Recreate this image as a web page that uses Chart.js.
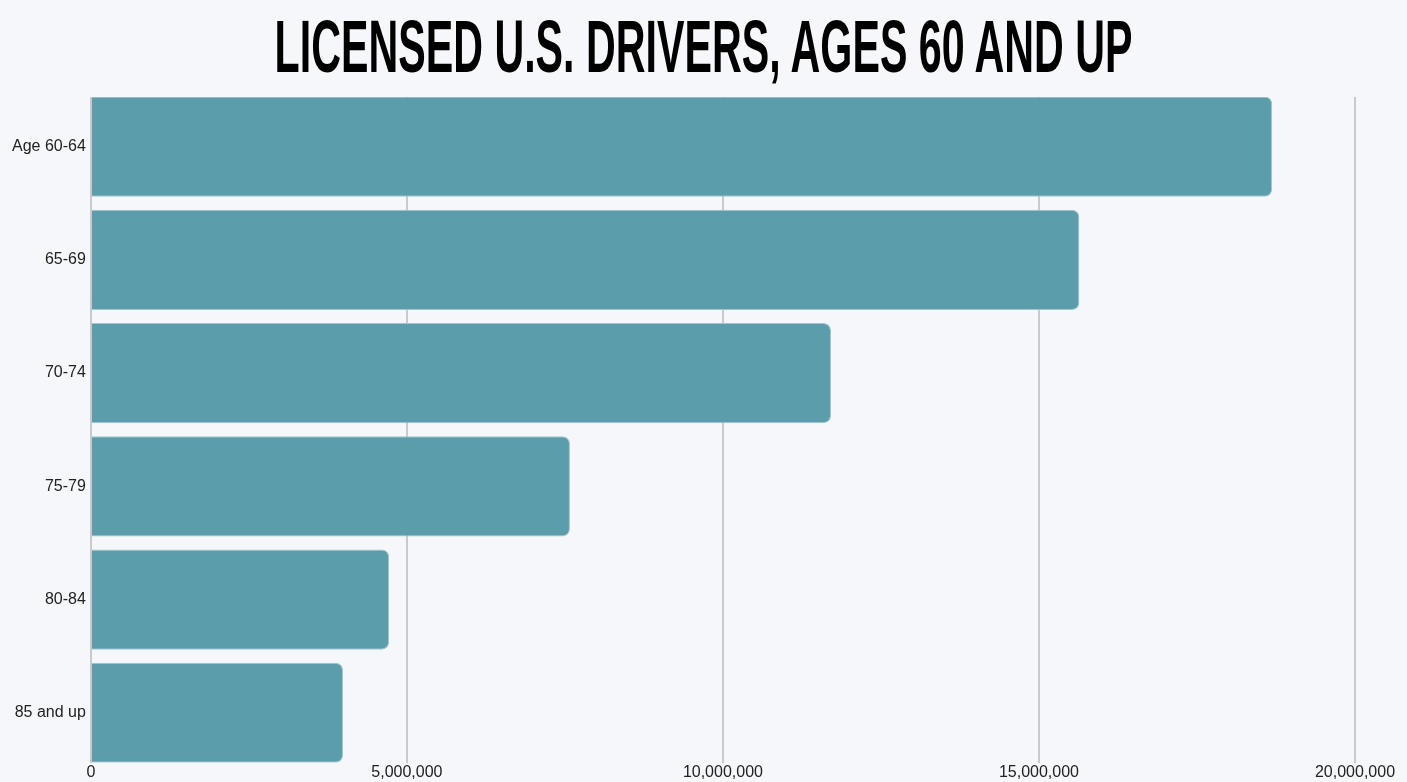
<!DOCTYPE html>
<html>
<head>
<meta charset="utf-8">
<script src="https://cdn.jsdelivr.net/npm/chart.js@4"></script>
<style>
html, body { margin: 0; padding: 0; background: #f5f7fb; }
body { width: 1407px; height: 782px; overflow: hidden; position: relative; }
#title { position: absolute; top: 9px; left: 0; width: 1407px; text-align: center; z-index: 2; }
#title span {
  display: inline-block;
  font-family: "Liberation Sans", Arial, sans-serif;
  font-weight: bold;
  font-size: 60px;
  line-height: 60px;
  color: #000;
  white-space: nowrap;
  transform-origin: 50% 0;
}
#wrap { position: absolute; top: 0; left: 0; width: 1407px; height: 782px; }
canvas { display: block; }
</style>
</head>
<body>
<div id="title"><span id="titleText">LICENSED U.S. DRIVERS, AGES 60 AND UP</span></div>
<div id="wrap"><canvas id="chart" width="1407" height="782"></canvas></div>
<script>

/* data */

const ageGroups = ["Age 60-64", "65-69", "70-74", "75-79", "80-84", "85 and up"];
const drivers = [18690000, 15640000, 11710000, 7580000, 4720000, 3990000];
const xTicks = [0, 5000000, 10000000, 15000000, 20000000];

/* title: squeeze to the same width as the original */

const t = document.getElementById("titleText");
const w = t.getBoundingClientRect().width;
t.style.transform = "scale(" + (858 / w) + ", 1.25)";

/* chart */

// rows go on a numeric axis so the bars can sit flush with the plot edges
const points = drivers.map((v, i) => ({ x: v, y: i }));

new Chart(document.getElementById("chart"), {
type: "bar",
data: {
datasets: [{
label: "Licensed drivers",
data: points,
backgroundColor: "#5c9dab",
borderColor: "#a3c6ce",
borderWidth: 1,
borderRadius: 7,
borderSkipped: "start",
barPercentage: 0.885,
categoryPercentage: 1
}]
},
options: {
indexAxis: "y",
responsive: false,
animation: false,
devicePixelRatio: 1,
layout: { padding: { top: 97, right: 52, left: 7, bottom: 0 } },
plugins: {
legend: { display: false },
tooltip: { enabled: false }
},
scales: {
x: {
type: "linear",
min: 0,
max: 20000000,
afterBuildTicks: axis => { axis.ticks = xTicks.map(v => ({ value: v })); },
grid: { color: "#c9cacd", lineWidth: 2, drawTicks: false },
border: { display: false },
ticks: {
color: "#222",
font: { family: "Liberation Sans, Arial, sans-serif", size: 16 },
padding: 0,
maxRotation: 0,
callback: v => v.toLocaleString("en-US")
}
},
y: {
type: "linear",
reverse: true,
offset: false,
min: -0.438,
max: ageGroups.length - 1 + 0.442,
afterBuildTicks: axis => { axis.ticks = ageGroups.map((g, i) => ({ value: i })); },
grid: { display: false, drawTicks: false },
border: { display: true, color: "#c9cacd", width: 1 },
ticks: {
color: "#222",
font: { family: "Liberation Sans, Arial, sans-serif", size: 16 },
padding: 5,
callback: v => ageGroups[v]
}
}
}
}
});
</script>
</body>
</html>
